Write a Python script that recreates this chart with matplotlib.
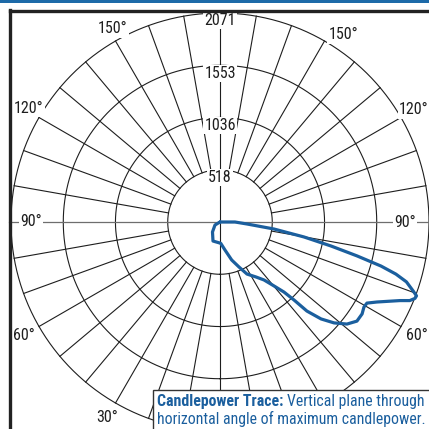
import numpy as np
import matplotlib
matplotlib.use('Agg')
import matplotlib.pyplot as plt
from matplotlib.patches import Rectangle
from matplotlib.lines import Line2D

# ---------------- data ----------------
ring_values = [518, 1036, 1553, 2071]
ring_labels = ['518', '1036', '1553', '2071']
spoke_angles = list(range(0, 360, 10))

angle_labels = ['150°', '120°', '90°', '60°', '30°', '150°', '120°', '90°', '60°']

# candlepower trace (angle from nadir in degrees, candela)
trace_angle = [90, 90, 85.8, 82.6, 79.9, 77.8, 76.1, 74.7, 73.5, 72.2, 70.3, 69.4,
               68.6, 67.5, 66.4, 63.0, 61.1, 59.4, 57.1, 54.1, 51.2, 48.5, 46.2,
               44.3, 43.5, 42.4, 40.2, 37.2, 33.2, 27.4, 22.9, 17.1, 10.1, 1.9,
               -20.2, -36.9, -59, 90]
trace_cd = [0, 148, 268, 540, 845, 1126, 1399, 1654, 1818, 1940, 2035, 2080,
            2075, 2035, 1945, 1746, 1663, 1657, 1677, 1675, 1614, 1509, 1388,
            1233, 1065, 940, 830, 721, 651, 581, 484, 394, 282, 211,
            201, 124, 58, 0]

# ---------------- layout / style ----------------
label_angles = [209, 239.2, 270, 300, 330, 146.5, 120, 90, 60]
label_radii = [2187, 2204, 1873, 2242, 2234, 2224, 2220, 1833, 2256]

FONT = ['Roboto Condensed', 'DejaVu Sans']
BLUE = '#1b5f9e'
GRID = '#1e1e1e'

W = H = 429
fig = plt.figure(figsize=(W / 100, H / 100), dpi=100)
fig.patch.set_facecolor('white')

cx, cy, R = 220, 222, 209
ax = fig.add_axes([(cx - R) / W, (H - cy - R) / H, 2 * R / W, 2 * R / H],
                  projection='polar')
ax.set_theta_zero_location('S')
ax.set_theta_direction(1)
ax.set_ylim(0, ring_values[-1])
ax.set_axis_off()
ax.patch.set_alpha(0)

th = np.linspace(0, 2 * np.pi, 721)
for rv in ring_values:
    ax.plot(th, np.full_like(th, rv), color=GRID, lw=0.8, zorder=1, clip_on=False)

for a in spoke_angles:
    t = np.deg2rad(a)
    if a in (90, 270):
        continue
    if a in (0, 180):
        ax.plot([t, t], [0, ring_values[-1]], color=GRID, lw=0.8, zorder=1, clip_on=False)
    else:
        ax.plot([t, t], [ring_values[0], ring_values[-1]], color=GRID, lw=0.8, zorder=1,
                clip_on=False)

# horizontal (90°) line in gray, extended to the frame
ax.plot([np.pi / 2, np.pi / 2], [0, 2100], color='#6e6e6e', lw=0.9, zorder=1, clip_on=False)
ax.plot([3 * np.pi / 2, 3 * np.pi / 2], [0, 2090], color='#6e6e6e', lw=0.9, zorder=1,
        clip_on=False)

# ring value labels
for rv, lab in zip(ring_values, ring_labels):
    ax.text(np.pi, rv - 78, lab, ha='center', va='center', fontsize=11.5,
            family=FONT, color='#1e1e1e', zorder=3,
            bbox=dict(boxstyle='square,pad=0.06', fc='white', ec='none'))

# angle labels
for lab, a, r in zip(angle_labels, label_angles, label_radii):
    ax.text(np.deg2rad(a), r, lab, ha='center', va='center', fontsize=11.5,
            family=FONT, color='#1e1e1e', zorder=3,
            bbox=dict(boxstyle='square,pad=0.1', fc='white', ec='none'))

# trace
ax.plot(np.deg2rad(trace_angle), trace_cd, color=BLUE, lw=2.3, zorder=4,
        solid_joinstyle='round', solid_capstyle='round', clip_on=False)

# frame
def px(x, y):
    return x / W, 1 - y / H

fig.add_artist(Line2D([px(9.5, 0)[0], px(9.5, 0)[0]], [px(0, 10)[1], px(0, 429)[1]],
                      color='#222222', lw=2.4, solid_capstyle='projecting'))
fig.add_artist(Line2D([px(9.5, 0)[0], 1.0], [px(0, 10.5)[1], px(0, 10.5)[1]],
                      color='#222222', lw=2.4, solid_capstyle='projecting'))
fig.add_artist(Rectangle((0, px(0, 2.6)[1]), 1, 2.6 / H, transform=fig.transFigure,
                         facecolor='#1d6aa8', edgecolor='none'))

# annotation box
bx0, by0 = px(153, 390)
fig.add_artist(Rectangle((bx0, 0 - 0.01), 1.02 - bx0, by0 + 0.01, transform=fig.transFigure,
                         facecolor='white', edgecolor='#333333', lw=1.0, zorder=10))
t1 = fig.text(px(157, 0)[0], px(0, 401.5)[1], 'Candlepower Trace:', fontsize=11.4,
              family=FONT, weight='bold', color=BLUE, va='center', ha='left', zorder=11)
fig.canvas.draw()
bb = t1.get_window_extent(renderer=fig.canvas.get_renderer())
x_end = bb.x1 / W
fig.text(x_end + 3.5 / W, px(0, 401.5)[1], 'Vertical plane through', fontsize=11.4,
         family=FONT, color=BLUE, va='center', ha='left', zorder=11)
fig.text(px(157, 0)[0], px(0, 418.5)[1], 'horizontal angle of maximum candlepower.',
         fontsize=11.3, family=FONT, color=BLUE, va='center', ha='left', zorder=11)

fig.savefig('out.png', dpi=100)
